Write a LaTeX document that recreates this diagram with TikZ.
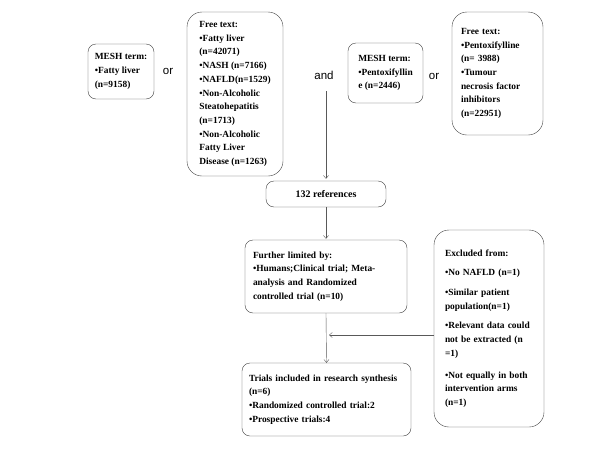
\documentclass[tikz,border=0pt]{standalone}
\usepackage{fontspec}
\setmainfont{Liberation Serif}
\newfontfamily\labelfont{Liberation Sans}
\usetikzlibrary{arrows.meta, positioning}

\begin{document}
\begin{tikzpicture}[
  x=1pt, y=-1pt,
  box/.style = {draw=black!75, rounded corners=8pt, align=left, font=\bfseries\fontsize{9.4}{13.7}\selectfont, inner xsep=6pt, inner ysep=4pt},
  bigbox/.style = {box, rounded corners=15pt},
  word/.style = {font=\labelfont\fontsize{11.5}{13}\selectfont},
  arrow/.style = {draw=black!65, -{Straight Barb[length=3pt, width=5pt]}}
]
  \useasboundingbox (0,0) rectangle (600,450);

  % search terms
  \node[box, minimum width=66pt, minimum height=55pt] (mesh1) at (121,71.5) {MESH term:\\\textbullet Fatty liver\\(n=9158)};
  \node[word] (or1) at (168,71) {or};
  \node[bigbox, minimum width=96pt, minimum height=164pt] (free1) at (235,94) {Free text:\\\textbullet Fatty liver\\(n=42071)\\\textbullet NASH (n=7166)\\\textbullet NAFLD(n=1529)\\\textbullet Non-Alcoholic\\Steatohepatitis\\(n=1713)\\\textbullet Non-Alcoholic\\Fatty Liver\\Disease (n=1263)};
  \node[word] (and) at (324,75) {and};
  \node[box, minimum width=75pt, minimum height=60pt] (mesh2) at (385.5,73) {MESH term:\\\textbullet Pentoxifyllin\\e (n=2446)};
  \node[word] (or2) at (434,76) {or};
  \node[bigbox, minimum width=91pt, minimum height=123pt, text width=73pt, inner xsep=9pt] (free2) at (497.5,73.5) {Free text:\\\textbullet Pentoxifylline\\(n= 3988)\\\textbullet Tumour\\necrosis factor\\inhibitors\\(n=22951)\\[4pt]};

  % screening
  \node[box, minimum width=120pt, minimum height=26pt, align=center, font=\bfseries\fontsize{10}{12}\selectfont] (refs) at (326,194) {132 references};
  \node[box, minimum width=162pt, minimum height=73pt, text width=146pt] (limited) at (326,276.5) {Further limited by:\\\textbullet Humans;Clinical trial; Meta-\\analysis and Randomized\\controlled trial (n=10)};
  \node[box, minimum width=169pt, minimum height=73pt, text width=155pt] (trials) at (326.5,399.5) {Trials included in research synthesis\\(n=6)\\\textbullet Randomized controlled trial:2\\\textbullet Prospective trials:4};
  \node[bigbox, minimum width=110pt, minimum height=197pt, text width=88pt, inner xsep=11pt] (excluded) at (489,328.5) {Excluded from:\\[6pt]\textbullet No NAFLD (n=1)\\[6pt]\textbullet Similar patient\\population(n=1)\\[6pt]\textbullet Relevant data could\\not be extracted (n\\=1)\\[8pt]\textbullet Not equally in both\\intervention arms\\(n=1)};

  % connectors
  \coordinate (start) at (326,91);
  \coordinate (merge) at (329,335);
  \draw[arrow] (start) -- ([yshift=2pt]refs.north);
  \draw[arrow] (refs.south) -- ([yshift=1pt]limited.north);
  \draw[arrow] (limited.south) -- (trials.north);
  \draw[arrow] (excluded.west |- merge) -- (merge);

\end{tikzpicture}
\end{document}
